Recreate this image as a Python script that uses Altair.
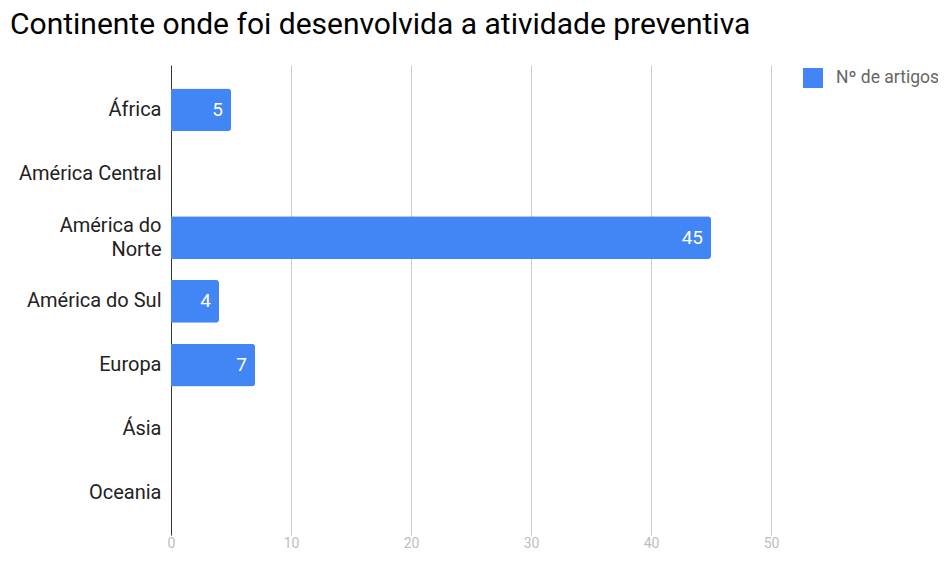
import altair as alt
import pandas as pd

categories = ["África", "América Central", "América do Norte", "América do Sul", "Europa", "Ásia", "Oceania"]
values = [5, 0, 45, 4, 7, 0, 0]
series_name = "Nº de artigos"
x_ticks = [0, 10, 20, 30, 40, 50]

df = pd.DataFrame({"continente": categories, "valor": values, "serie": series_name})

FONT = "Roboto"

y_enc = alt.Y(
    "continente:N",
    sort=categories,
    scale=alt.Scale(domain=categories, paddingInner=0.33, paddingOuter=0.348, align=0.53),
    axis=alt.Axis(
        title=None,
        ticks=False,
        domain=True,
        domainColor="#333333",
        domainWidth=1,
        grid=False,
        labelFont=FONT,
        labelFontSize=20,
        labelColor="#222222",
        labelPadding=10,
        labelLineHeight=24,
        labelLimit=300,
        labelOffset={"condition": {"test": "datum.value == 'América do Norte'", "value": -12}, "value": 0},
        labelExpr="datum.label == 'América do Norte' ? ['América do', 'Norte'] : datum.label",
    ),
)

x_enc = alt.X(
    "valor:Q",
    scale=alt.Scale(domain=[0, 50], nice=False),
    axis=alt.Axis(
        title=None,
        values=x_ticks,
        ticks=False,
        domain=False,
        grid=True,
        gridColor="#cccccc",
        gridWidth=1,
        labelFont=FONT,
        labelFontSize=14,
        labelColor="#bdbdbd",
        labelPadding=1,
        labelFlush=False,
    ),
)

bars = alt.Chart(df).mark_bar(cornerRadiusEnd=3).encode(
    y=y_enc,
    x=x_enc,
    color=alt.Color(
        "serie:N",
        scale=alt.Scale(range=["#4285F4"]),
        legend=alt.Legend(
            title=None,
            orient="none",
            legendX=632,
            legendY=3,
            symbolType="square",
            symbolSize=400,
            symbolStrokeWidth=0,
            labelFont=FONT,
            labelFontSize=17.5,
            labelColor="#666666",
            labelOffset=13,
            labelLimit=300,
            padding=0,
        ),
    ),
)

labels = alt.Chart(df).transform_filter("datum.valor > 0").mark_text(
    align="right", baseline="middle", dx=-8, color="white", font=FONT, fontSize=19
).encode(
    y=alt.Y("continente:N", sort=categories),
    x=alt.X("valor:Q"),
    text=alt.Text("valor:Q"),
)

chart = (
    alt.layer(bars, labels)
    .properties(
        width=600,
        height=470,
        autosize=alt.AutoSizeParams(type="none"),
        padding={"left": 163, "top": 57, "right": 167, "bottom": 18},
        title=alt.TitleParams(
            "Continente onde foi desenvolvida a atividade preventiva",
            anchor="start",
            frame="group",
            font=FONT,
            fontSize=30,
            fontWeight="normal",
            color="#000000",
            baseline="alphabetic",
            offset=1,
            dx=-161,
        ),
    )
    .configure_view(stroke=None)
)

chart.save("out.html", embed_options={"renderer": "svg", "actions": False})
